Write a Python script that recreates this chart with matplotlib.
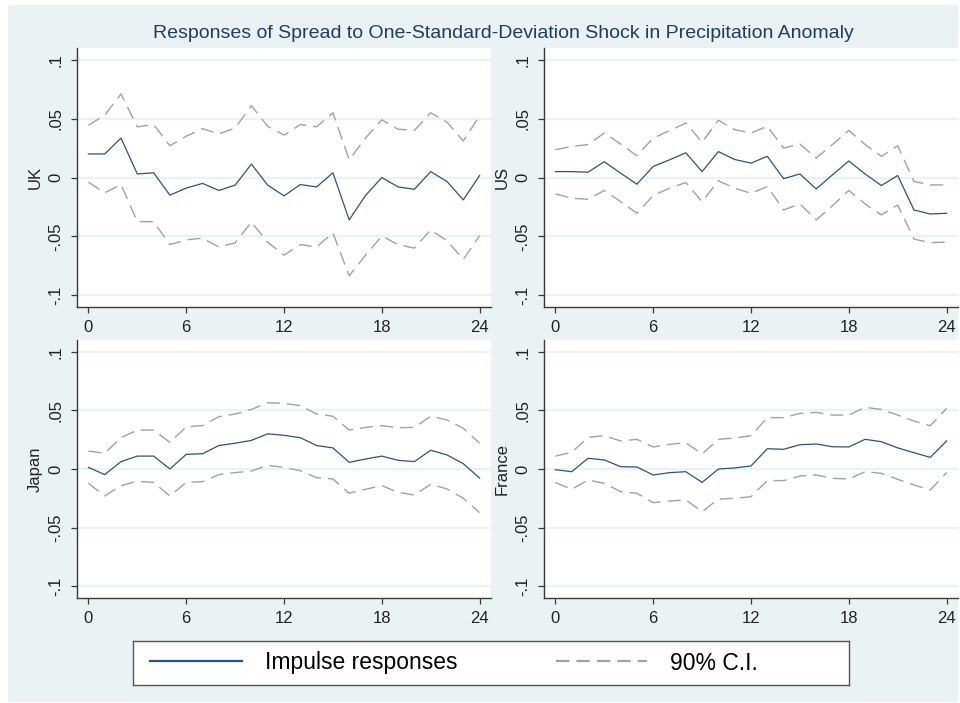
import matplotlib
matplotlib.use("Agg")
import matplotlib.pyplot as plt
from matplotlib.patches import Rectangle
from matplotlib.lines import Line2D

# horizon 0..24
steps = list(range(25))

uk_irf = [0.020, 0.020, 0.0335, 0.003, 0.004, -0.015, -0.009, -0.005, -0.011, -0.0065,
          0.0114, -0.0065, -0.0156, -0.006, -0.008, 0.004, -0.036, -0.0153, 0.0, -0.008,
          -0.010, 0.005, -0.0034, -0.019, 0.0017]
uk_hi = [0.0443, 0.053, 0.071, 0.043, 0.045, 0.027, 0.035, 0.0415, 0.037, 0.042,
         0.061, 0.0435, 0.036, 0.045, 0.043, 0.055, 0.015, 0.0335, 0.049, 0.041,
         0.040, 0.055, 0.047, 0.031, 0.0525]
uk_lo = [-0.004, -0.013, -0.006, -0.0375, -0.0375, -0.057, -0.053, -0.0515, -0.059, -0.0555,
         -0.038, -0.055, -0.066, -0.057, -0.059, -0.047, -0.0835, -0.066, -0.0497, -0.057,
         -0.060, -0.0446, -0.0537, -0.0696, -0.0494]

us_irf = [0.005, 0.005, 0.0045, 0.0134, 0.0037, -0.0057, 0.0094, 0.015, 0.021, 0.005,
          0.022, 0.0153, 0.0122, 0.018, -0.001, 0.003, -0.0097, 0.0023, 0.014, 0.003,
          -0.0068, 0.0017, -0.0276, -0.031, -0.0304]
us_hi = [0.0236, 0.0264, 0.028, 0.0378, 0.0284, 0.0185, 0.0335, 0.0398, 0.0463, 0.030,
         0.0486, 0.0406, 0.0378, 0.0435, 0.025, 0.0284, 0.0165, 0.028, 0.040, 0.028,
         0.018, 0.027, -0.0034, -0.0063, -0.0063]
us_lo = [-0.0139, -0.0176, -0.0185, -0.011, -0.0205, -0.0304, -0.0153, -0.0091, -0.0043, -0.0205,
         -0.0028, -0.0091, -0.0134, -0.0077, -0.0276, -0.0224, -0.036, -0.024, -0.011, -0.0224,
         -0.0318, -0.0233, -0.0523, -0.0554, -0.0548]

jp_irf = [0.0014, -0.0048, 0.0063, 0.011, 0.011, 0.0, 0.0125, 0.013, 0.020, 0.022,
          0.0244, 0.030, 0.0287, 0.0267, 0.020, 0.018, 0.0057, 0.0085, 0.011, 0.0074,
          0.0063, 0.016, 0.012, 0.0045, -0.0077]
jp_hi = [0.0153, 0.0134, 0.0267, 0.0332, 0.0332, 0.0227, 0.036, 0.037, 0.0446, 0.0469,
         0.0508, 0.0565, 0.056, 0.054, 0.0469, 0.045, 0.0332, 0.0355, 0.037, 0.0352,
         0.0355, 0.045, 0.0418, 0.0347, 0.022]
jp_lo = [-0.0122, -0.023, -0.0142, -0.0105, -0.0114, -0.023, -0.0114, -0.0108, -0.0048, -0.0031,
         -0.0017, 0.0031, 0.0014, -0.0014, -0.0074, -0.0085, -0.0207, -0.0173, -0.0142, -0.0199,
         -0.0222, -0.013, -0.017, -0.025, -0.0372]

fr_irf = [-0.0006, -0.0023, 0.0091, 0.0077, 0.002, 0.0017, -0.0051, -0.0031, -0.0023, -0.0114,
          0.0, 0.0009, 0.0026, 0.0173, 0.0168, 0.0207, 0.0213, 0.019, 0.0188, 0.0253,
          0.0233, 0.018, 0.0139, 0.0099, 0.0239]
fr_hi = [0.011, 0.0142, 0.027, 0.0284, 0.0239, 0.0253, 0.0188, 0.021, 0.0224, 0.0128,
         0.0253, 0.0264, 0.0284, 0.0438, 0.0438, 0.0474, 0.0483, 0.046, 0.046, 0.0526,
         0.0508, 0.046, 0.0409, 0.0369, 0.0517]
fr_lo = [-0.0116, -0.0173, -0.0094, -0.0122, -0.0193, -0.0207, -0.0287, -0.0273, -0.0264, -0.0364,
         -0.0256, -0.025, -0.0236, -0.0099, -0.0099, -0.006, -0.0051, -0.008, -0.0085, -0.0023,
         -0.0037, -0.0088, -0.0136, -0.0179, -0.0031]

countries = ["UK", "US", "Japan", "France"]
xticks = [0, 6, 12, 18, 24]
yticks = [-0.1, -0.05, 0, 0.05, 0.1]
ytick_labels = ["-.1", "-.05", "0", ".05", ".1"]

BG = "#eaf2f3"
NAVY = "#2a5480"
CI_GREY = "#a2a2a2"
AXIS = "#3a3a3a"

plt.rcParams["font.family"] = ["Liberation Sans", "DejaVu Sans"]

W, H = 960, 703
fig = plt.figure(figsize=(W / 100, H / 100), dpi=100)
fig.patch.set_facecolor("white")
fig.patches.append(Rectangle((8 / W, 1 - 702 / H), 950 / W, 697 / H,
                             transform=fig.transFigure, facecolor=BG,
                             edgecolor="none", zorder=-10))


def px_axes(left, top, right, bottom):
    return fig.add_axes([left / W, 1 - bottom / H, (right - left) / W, (bottom - top) / H])


boxes = [(77, 48, 491, 307), (544, 48, 958, 307),
         (77, 340, 491, 598), (544, 340, 958, 598)]
series = [(uk_irf, uk_hi, uk_lo), (us_irf, us_hi, us_lo),
          (jp_irf, jp_hi, jp_lo), (fr_irf, fr_hi, fr_lo)]

for box, name, (irf, hi, lo) in zip(boxes, countries, series):
    ax = px_axes(*box)
    ax.set_facecolor("white")
    ax.plot(steps, hi, color=CI_GREY, lw=1.0, dashes=(9.5, 5))
    ax.plot(steps, lo, color=CI_GREY, lw=1.0, dashes=(9.5, 5))
    ax.plot(steps, irf, color=NAVY, lw=0.9)
    ax.set_xlim(-0.7, 24.7)
    ax.set_ylim(-0.11, 0.11)
    ax.set_xticks(xticks)
    ax.set_yticks(yticks)
    ax.set_yticklabels(ytick_labels, rotation=90, va="center")
    ax.yaxis.grid(True, color=BG, lw=1.6)
    ax.set_axisbelow(True)
    for s in ["top", "right"]:
        ax.spines[s].set_visible(False)
    for s in ["left", "bottom"]:
        ax.spines[s].set_color(AXIS)
        ax.spines[s].set_linewidth(1.0)
    ax.tick_params(axis="both", colors=AXIS, labelcolor="#222222", labelsize=12,
                   length=4, width=0.9)
    ax.tick_params(axis="y", pad=6)
    ax.tick_params(axis="x", pad=5.5)
    ax.set_ylabel(name, fontsize=12, color="#222222", labelpad=4)

fig.text(503 / W, 1 - 33 / H,
         "Responses of Spread to One-Standard-Deviation Shock in Precipitation Anomaly",
         ha="center", va="center", fontsize=14, color="#1e3d66")

# legend box
lax = px_axes(133, 641, 849, 685)
lax.set_facecolor("white")
lax.set_xticks([])
lax.set_yticks([])
for s in lax.spines.values():
    s.set_color("#555555")
    s.set_linewidth(1.0)
handles = [Line2D([], [], color=NAVY, lw=1.6),
           Line2D([], [], color=CI_GREY, lw=1.6, dashes=(6, 3.2))]
lax.legend(handles, ["Impulse responses", "90% C.I."], loc="center left",
           frameon=False, ncol=2, fontsize=16.5, handlelength=4.0,
           handletextpad=1.0, columnspacing=4.3, borderpad=0, borderaxespad=0.74)

fig.savefig("out.png", dpi=100, facecolor=fig.get_facecolor())
